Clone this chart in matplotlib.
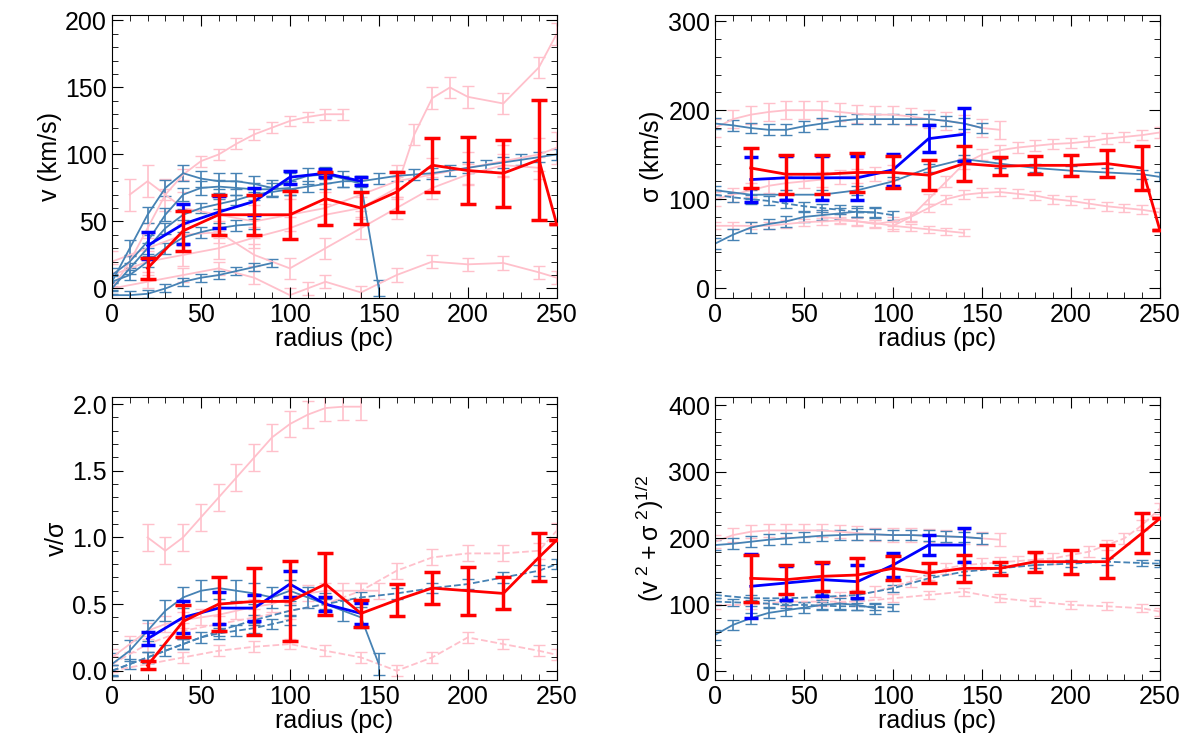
import matplotlib
matplotlib.use('Agg')
import matplotlib.pyplot as plt
from matplotlib.ticker import MultipleLocator

plt.rcParams['font.family'] = ['Liberation Sans', 'DejaVu Sans']
plt.rcParams['mathtext.default'] = 'regular'
plt.rcParams['font.size'] = 18

# Stacked (binned) profiles
radius = [20, 40, 60, 80, 100, 120, 140, 160, 180, 200, 220, 240, 250]
red_v = [15, 43, 55, 55, 55, 67, 60, 72, 92, 88, 86, 96, 48]
red_v_err = [8, 15, 15, 15, 18, 20, 12, 15, 20, 25, 25, 45, 0]
red_sig = [135, 128, 128, 130, 130, 127, 140, 137, 138, 138, 140, 135, 65]
red_sig_err = [22, 22, 22, 22, 18, 17, 20, 10, 10, 12, 15, 25, 0]
red_vs = [0.04, 0.37, 0.50, 0.52, 0.52, 0.65, 0.43, 0.53, 0.62, 0.60, 0.58, 0.85, 0.98]
red_vs_err = [0.03, 0.12, 0.2, 0.25, 0.3, 0.23, 0.1, 0.12, 0.12, 0.18, 0.12, 0.18, 0]
red_tot = [140, 138, 143, 145, 155, 148, 155, 155, 165, 165, 165, 208, 230]
red_tot_err = [35, 22, 22, 25, 18, 15, 20, 10, 15, 18, 25, 30, 0]

radius_b = [20, 40, 60, 80, 100, 120, 140]
blue_v = [32, 48, 57, 65, 83, 86, 80]
blue_v_err = [10, 15, 12, 10, 5, 3, 3]
blue_sig = [122, 124, 124, 124, 133, 168, 173]
blue_sig_err = [25, 25, 25, 25, 18, 15, 30]
blue_vs = [0.24, 0.40, 0.47, 0.47, 0.65, 0.50, 0.43]
blue_vs_err = [0.05, 0.12, 0.12, 0.10, 0.10, 0.05, 0.08]
blue_tot = [128, 133, 138, 135, 160, 190, 190]
blue_tot_err = [48, 25, 25, 25, 18, 15, 25]

# Individual galaxy profiles: (x, y, error, dashed)
r10_150 = [0, 10, 20, 30, 40, 50, 60, 70, 80, 90, 100, 110, 120, 130, 140, 150]
r20_250 = [0, 20, 40, 60, 80, 100, 120, 140, 160, 180, 200, 220, 240, 250]
r0_90 = [0, 10, 20, 30, 40, 50, 60, 70, 80, 90]
r0_100 = [0, 10, 20, 30, 40, 50, 60, 70, 80, 90, 100]

v_blue = [
    (r10_150, [5, 30, 55, 75, 86, 82, 80, 80, 78, 75, 80, 84, 85, 82, 78, 0], 6, False),
    ([0, 10, 20, 30, 40, 50, 60, 70, 80, 90, 100, 110, 120, 130, 140, 150, 160, 170, 180, 190, 200, 210, 220, 230, 240, 250],
     [0, 15, 30, 45, 55, 60, 63, 66, 70, 72, 74, 76, 78, 80, 80, 82, 84, 85, 86, 88, 90, 92, 94, 96, 98, 100], 4, False),
    (r0_90, [-5, -5, -4, 0, 5, 8, 10, 13, 16, 19], 3, False),
    (r0_100, [10, 20, 35, 55, 70, 75, 76, 75, 74, 74, 75], 5, False),
    ([0, 10, 20, 30, 40, 50, 60, 70, 80], [5, 10, 20, 30, 38, 42, 45, 47, 48], 4, False),
]
v_pink = [
    ([0, 10, 20, 30, 40, 50, 60, 70, 80, 90, 100, 110, 120, 130],
     [0, 20, 45, 70, 85, 95, 100, 108, 115, 120, 125, 128, 130, 130], 4, False),
    ([0, 20, 40, 60, 80, 100, 120, 140, 160, 170, 180, 190, 200, 220, 240, 250],
     [10, 20, 25, 30, 38, 45, 55, 60, 75, 115, 142, 150, 143, 138, 165, 190], 8, False),
    ([0, 20, 40, 60, 80, 100, 110, 120, 140, 160, 180, 200, 220, 240, 250],
     [0, 5, 10, 15, 8, -5, 0, 5, -3, 10, 20, 18, 19, 12, 8], 5, False),
    ([10, 20, 30, 40, 60, 80, 100, 120, 140, 160, 180, 200, 220, 240, 250],
     [70, 80, 70, 60, 55, 50, 55, 60, 70, 80, 85, 90, 95, 100, 105], 12, False),
    ([0, 20, 40, 60, 80, 100, 120, 140, 160, 180, 200, 220, 240],
     [20, 30, 40, 42, 25, 15, 30, 45, 60, 75, 85, 92, 90], 8, False),
]
s_blue = [
    (r10_150, [185, 183, 180, 178, 178, 182, 185, 188, 190, 190, 190, 190, 190, 188, 185, 180], 6, False),
    (r0_90, [50, 60, 68, 72, 75, 80, 82, 84, 86, 85], 6, False),
    (r0_100, [105, 102, 100, 98, 95, 92, 90, 88, 85, 85, 82], 5, True),
    (r20_250, [110, 105, 105, 105, 110, 120, 135, 145, 140, 135, 132, 130, 128, 125], 5, False),
]
s_pink = [
    ([0, 10, 20, 30, 40, 50, 60, 70, 80, 90, 100, 110, 120, 130, 140, 150, 160],
     [180, 190, 195, 198, 200, 200, 200, 198, 196, 195, 195, 193, 190, 188, 185, 180, 178], 10, False),
    ([0, 10, 20, 30, 40, 50, 60, 70, 80, 90, 100, 110, 120, 130, 140],
     [70, 70, 70, 70, 72, 74, 75, 76, 75, 73, 70, 68, 66, 64, 62], 4, False),
    ([60, 70, 80, 90, 100, 110, 120, 130, 140, 150, 160, 170, 180, 190, 200, 210, 220, 230, 240, 250],
     [80, 78, 75, 72, 75, 80, 90, 100, 105, 107, 108, 106, 104, 100, 98, 95, 92, 90, 88, 85], 5, False),
    ([100, 110, 120, 130, 140, 150, 160, 170, 180, 190, 200, 210, 220, 230, 240, 250],
     [70, 80, 100, 120, 140, 150, 155, 158, 160, 162, 163, 165, 168, 170, 172, 175], 6, False),
    (r0_100, [100, 105, 110, 115, 118, 120, 122, 125, 126, 128, 130], 8, False),
]
q_blue = [
    (r10_150, [0.05, 0.15, 0.3, 0.45, 0.55, 0.6, 0.62, 0.6, 0.58, 0.55, 0.6, 0.55, 0.5, 0.45, 0.4, 0.05], 0.08, False),
    (r20_250, [0, 0.1, 0.2, 0.3, 0.38, 0.45, 0.5, 0.55, 0.58, 0.62, 0.65, 0.7, 0.75, 0.8], 0.04, True),
    (r0_100, [0.0, 0.05, 0.1, 0.15, 0.2, 0.25, 0.28, 0.3, 0.32, 0.35, 0.38], 0.04, True),
]
q_pink = [
    ([20, 30, 40, 50, 60, 70, 80, 90, 100, 110, 120, 130, 140],
     [1.0, 0.9, 1.0, 1.15, 1.3, 1.45, 1.6, 1.75, 1.85, 1.92, 1.97, 1.98, 1.98], 0.1, False),
    (r20_250, [0.05, 0.2, 0.3, 0.35, 0.4, 0.45, 0.5, 0.6, 0.75, 0.85, 0.88, 0.88, 0.9, 1.05], 0.06, True),
    (r20_250, [0.0, 0.05, 0.1, 0.15, 0.18, 0.2, 0.15, 0.1, 0.0, 0.1, 0.25, 0.2, 0.15, 0.12], 0.04, True),
    (r10_150, [0.1, 0.2, 0.3, 0.35, 0.38, 0.4, 0.42, 0.45, 0.48, 0.5, 0.55, 0.58, 0.6, 0.6, 0.6, 0.6], 0.06, False),
]
t_blue = [
    (r10_150, [190, 192, 195, 198, 200, 202, 204, 205, 206, 206, 205, 205, 204, 203, 202, 200], 8, False),
    (r0_90, [55, 70, 80, 88, 92, 96, 100, 102, 100, 95], 8, False),
    (r0_100, [105, 104, 103, 102, 100, 100, 99, 98, 98, 97, 96], 5, True),
    (r20_250, [115, 110, 110, 112, 115, 125, 140, 150, 155, 160, 162, 165, 163, 162], 5, True),
]
t_pink = [
    ([0, 10, 20, 30, 40, 50, 60, 70, 80, 90, 100, 110, 120, 130, 140, 150, 160],
     [195, 205, 210, 212, 212, 212, 212, 210, 208, 206, 205, 205, 204, 203, 202, 200, 198], 10, False),
    (r20_250, [100, 100, 105, 105, 105, 110, 115, 120, 110, 105, 100, 98, 95, 90], 6, True),
    ([60, 70, 80, 90, 100, 110, 120, 130, 140, 150, 160, 170, 180, 190, 200, 210, 220, 230, 240, 250],
     [110, 112, 115, 120, 128, 135, 145, 155, 160, 162, 164, 166, 168, 170, 175, 180, 190, 200, 220, 245], 8, True),
]

panels = [
    (v_blue, v_pink, red_v, red_v_err, blue_v, blue_v_err, (-7, 204), 50, 10, 'v (km/s)'),
    (s_blue, s_pink, red_sig, red_sig_err, blue_sig, blue_sig_err, (-11, 307), 100, 20, r'$\sigma$ (km/s)'),
    (q_blue, q_pink, red_vs, red_vs_err, blue_vs, blue_vs_err, (-0.07, 2.05), 0.5, 0.1, r'v/$\sigma$'),
    (t_blue, t_pink, red_tot, red_tot_err, blue_tot, blue_tot_err, (-13, 412), 100, 20, r'$(v^{\ 2} + \sigma^{\ 2})^{1/2}$'),
]
rects = [(0.0944, 0.605), (0.603, 0.605), (0.0944, 0.098), (0.603, 0.098)]

fig = plt.figure(figsize=(11.86, 7.54), dpi=100)
for (bl, pk, ry, re, by, be, ylim, major, minor, ylab), (l, b) in zip(panels, rects):
    ax = fig.add_axes([l, b, 0.375, 0.375])
    for curves, col in ((pk, 'pink'), (bl, 'steelblue')):
        for x, y, e, dashed in curves:
            ax.errorbar(x, y, yerr=e, color=col, lw=1.3, capsize=4, elinewidth=1.2,
                        ls='--' if dashed else '-', zorder=1)
    ax.errorbar(radius_b, by, yerr=be, color='blue', lw=2, capsize=5, capthick=2.5,
                elinewidth=2, zorder=3)
    ax.errorbar(radius, ry, yerr=re, color='red', lw=2, capsize=6, capthick=2.5,
                elinewidth=2.5, zorder=4)
    ax.set_xlim(0, 250)
    ax.set_ylim(*ylim)
    ax.xaxis.set_major_locator(MultipleLocator(50))
    ax.xaxis.set_minor_locator(MultipleLocator(10))
    ax.yaxis.set_major_locator(MultipleLocator(major))
    ax.yaxis.set_minor_locator(MultipleLocator(minor))
    ax.tick_params(which='both', direction='in', top=True, right=True)
    ax.tick_params(which='major', length=8)
    ax.tick_params(which='minor', length=4)
    ax.set_xlabel('radius (pc)', labelpad=0)
    ax.set_ylabel(ylab, labelpad=2)
    if major == 0.5:
        ax.yaxis.set_major_formatter(plt.FormatStrFormatter('%.1f'))

fig.savefig('out.png', dpi=100)
